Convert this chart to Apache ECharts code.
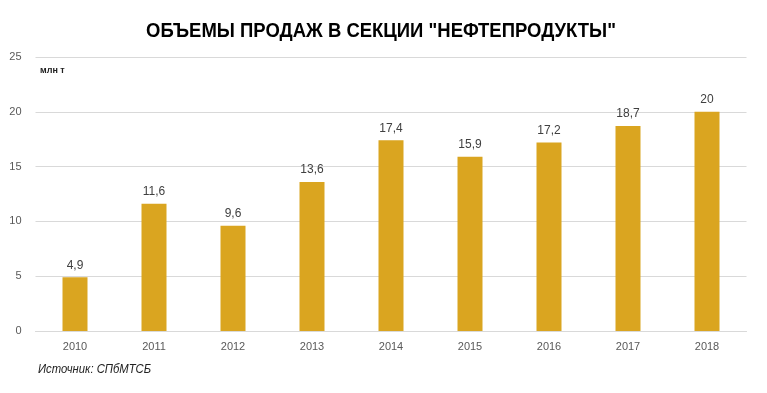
<!DOCTYPE html>
<html><head><meta charset="utf-8">
<script src="https://cdn.jsdelivr.net/npm/echarts@6/dist/echarts.min.js"></script>
<style>html,body{margin:0;padding:0;background:#fff}#c{width:767px;height:393px}</style>
</head><body><div id="c"></div>
<script>
const categories = ['2010','2011','2012','2013','2014','2015','2016','2017','2018'];
const values = [4.9, 11.6, 9.6, 13.6, 17.4, 15.9, 17.2, 18.7, 20];
const yTicks = [0, 5, 10, 15, 20, 25];
const titleText = 'ОБЪЕМЫ ПРОДАЖ В СЕКЦИИ "НЕФТЕПРОДУКТЫ"';
const unitText = 'млн т';
const sourceText = 'Источник: СПбМТСБ';

const chart = echarts.init(document.getElementById('c'));
chart.setOption({
  animation: false,
  graphic: [
    { type: 'text', x: 381, y: 31, scaleX: 0.88,
      style: { text: titleText, align: 'center', verticalAlign: 'middle',
        font: 'bold 21px "Liberation Sans", Arial, sans-serif', fill: '#000' } },
    { type: 'text', left: 40, top: 66, style: { text: unitText, font: 'bold 9px "Liberation Sans", Arial, sans-serif', fill: '#222' } },
    { type: 'text', x: 38, y: 364, scaleX: 0.94, style: { text: sourceText, font: 'italic 12px "Liberation Sans", Arial, sans-serif', fill: '#222' } }
  ],
  grid: { left: 35.5, right: 20.5, top: 57, bottom: 62 },
  xAxis: { type: 'category', data: categories,
    axisLine: { lineStyle: { color: '#d9d9d9' } }, axisTick: { show: false },
    axisLabel: { color: '#595959', fontSize: 11, margin: 10, fontFamily: '"Liberation Sans", Arial, sans-serif' } },
  yAxis: { type: 'value', min: yTicks[0], max: yTicks[yTicks.length-1], interval: 5,
    axisLine: { show: false }, axisTick: { show: false },
    splitLine: { lineStyle: { color: '#d9d9d9' } },
    axisLabel: { color: '#595959', fontSize: 11, margin: 14, fontFamily: '"Liberation Sans", Arial, sans-serif' } },
  series: [{ type: 'bar', data: values, barWidth: 25,
    itemStyle: { color: '#DAA520' },
    label: { show: true, position: 'top', distance: 6, color: '#404040', fontSize: 12,
      fontFamily: '"Liberation Sans", Arial, sans-serif',
      formatter: p => String(p.value).replace('.', ',') } }]
});
</script></body></html>
